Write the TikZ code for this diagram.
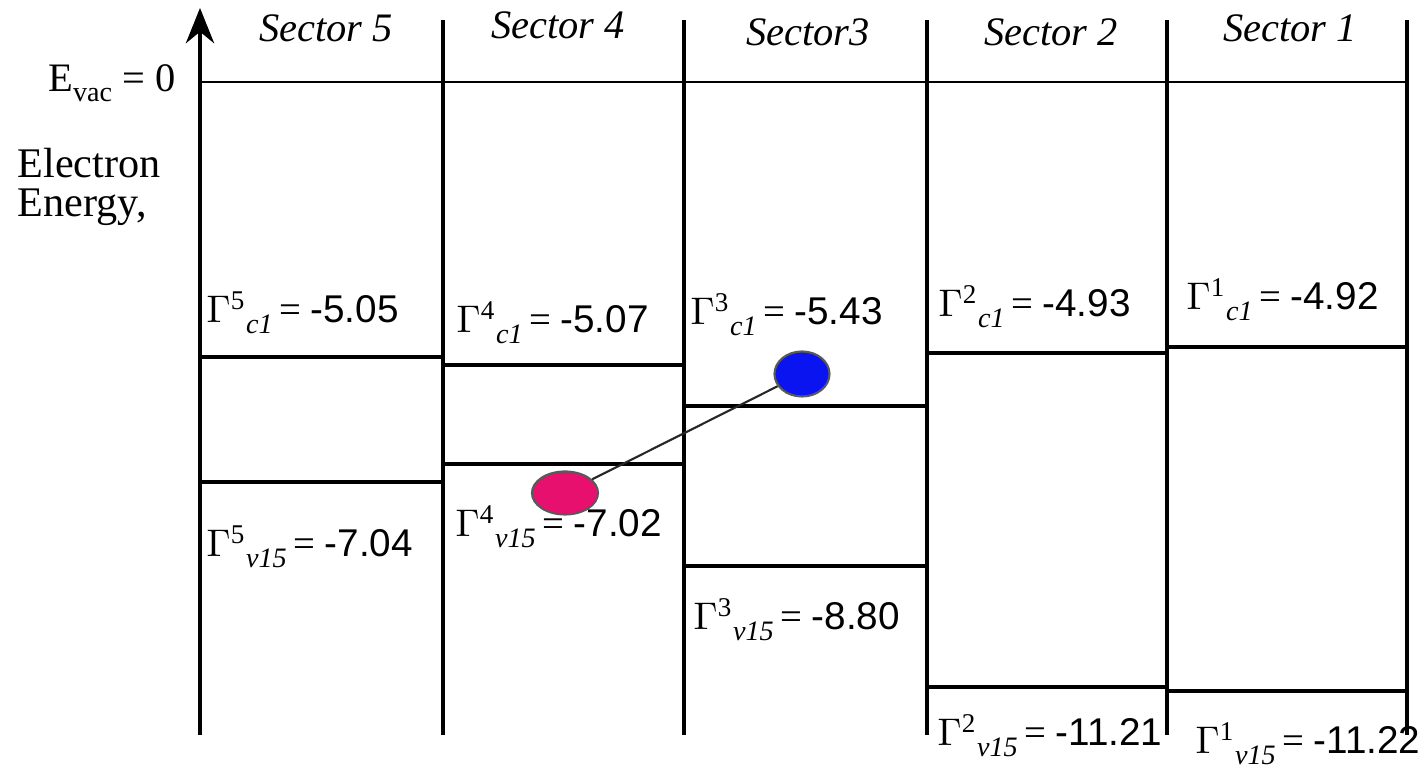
\documentclass[tikz,border=0pt]{standalone}
\usepackage{fontspec}
\setmainfont{Liberation Serif}
\newfontfamily\numfont{Liberation Sans}
\usetikzlibrary{arrows.meta,shapes.geometric}
\definecolor{holepink}{HTML}{E8106E}
\definecolor{elecblue}{HTML}{0A14F0}
% level label: Gamma^{sector}_{band} = value
\newcommand{\glev}[3]{\(\Gamma\)\textsuperscript{#1}\raisebox{-0.6ex}{\footnotesize\itshape #2}\,= {\numfont #3}}

\begin{document}
\begin{tikzpicture}[x=0.01cm,y=-0.01cm,>=Stealth,
    wall/.style={line width=1.3pt},
    band/.style={line width=1.1pt},
    sectorlab/.style={font=\fontsize{11.5}{13}\selectfont\itshape},
    levlab/.style={anchor=base west,inner sep=0pt,font=\fontsize{11}{13}\selectfont},
    carrier/.style={ellipse,draw=gray!70!black,line width=0.6pt,inner sep=0pt}]
    \useasboundingbox (0,0) rectangle (1426,768);
    \draw[-{Stealth[length=10pt,width=8pt]},wall] (200,735) -- (200,8);
    \foreach \x in {443,684,927,1167,1407}
        \draw[wall] (\x,20) -- (\x,735);
    \draw[line width=0.6pt] (200,82) -- (1407,82);
    \node[anchor=base east,inner sep=0pt,font=\fontsize{11.5}{13}\selectfont] (evac) at (176,92)
        {E\raisebox{-0.5ex}{\footnotesize vac} = 0};
    \node[anchor=west,align=left,inner sep=0pt,font=\fontsize{12}{11}\selectfont] (ylab) at (17,187)
        {Electron\\Energy,};
    \node[sectorlab] (s5) at (326,28) {Sector 5};
    \node[sectorlab] (s4) at (558,25) {Sector 4};
    \node[sectorlab] (s3) at (808,32) {Sector3};
    \node[sectorlab] (s2) at (1051,32) {Sector 2};
    \node[sectorlab] (s1) at (1290,28) {Sector 1};
    % conduction band levels
    \draw[band] (200,357) -- (443,357);
    \draw[band] (443,365) -- (684,365);
    \draw[band] (684,406) -- (927,406);
    \draw[band] (927,353) -- (1167,353);
    \draw[band] (1167,347) -- (1407,347);
    % valence band levels
    \draw[band] (200,482) -- (443,482);
    \draw[band] (443,464) -- (684,464);
    \draw[band] (684,566) -- (927,566);
    \draw[band] (927,687) -- (1167,687);
    \draw[band] (1167,691) -- (1407,691);
    \node[levlab] (c5) at (206,323) {\glev{5}{c1}{-5.05}};
    \node[levlab] (c4) at (456,333) {\glev{4}{c1}{-5.07}};
    \node[levlab] (c3) at (690,325) {\glev{3}{c1}{-5.43}};
    \node[levlab] (c2) at (938,317) {\glev{2}{c1}{-4.93}};
    \node[levlab] (c1) at (1186,310) {\glev{1}{c1}{-4.92}};
    \node[levlab] (v5) at (206,557) {\glev{5}{v15}{-7.04}};
    \node[levlab] (v4) at (455,537) {\glev{4}{v15}{-7.02}};
    \node[levlab] (v3) at (693,630) {\glev{3}{v15}{-8.80}};
    \node[levlab] (v2) at (937,746) {\glev{2}{v15}{-11.21}};
    \node[levlab] (v1) at (1195,754) {\glev{1}{v15}{-11.22}};
    % carriers
    \node[carrier,fill=holepink,minimum width=0.66cm,minimum height=0.43cm] (hole) at (565,493) {};
    \node[carrier,fill=elecblue,minimum width=0.55cm,minimum height=0.45cm] (elec) at (802,374) {};
    \draw[gray!30!black,line width=0.6pt] (hole) -- (elec);
\end{tikzpicture}
\end{document}
